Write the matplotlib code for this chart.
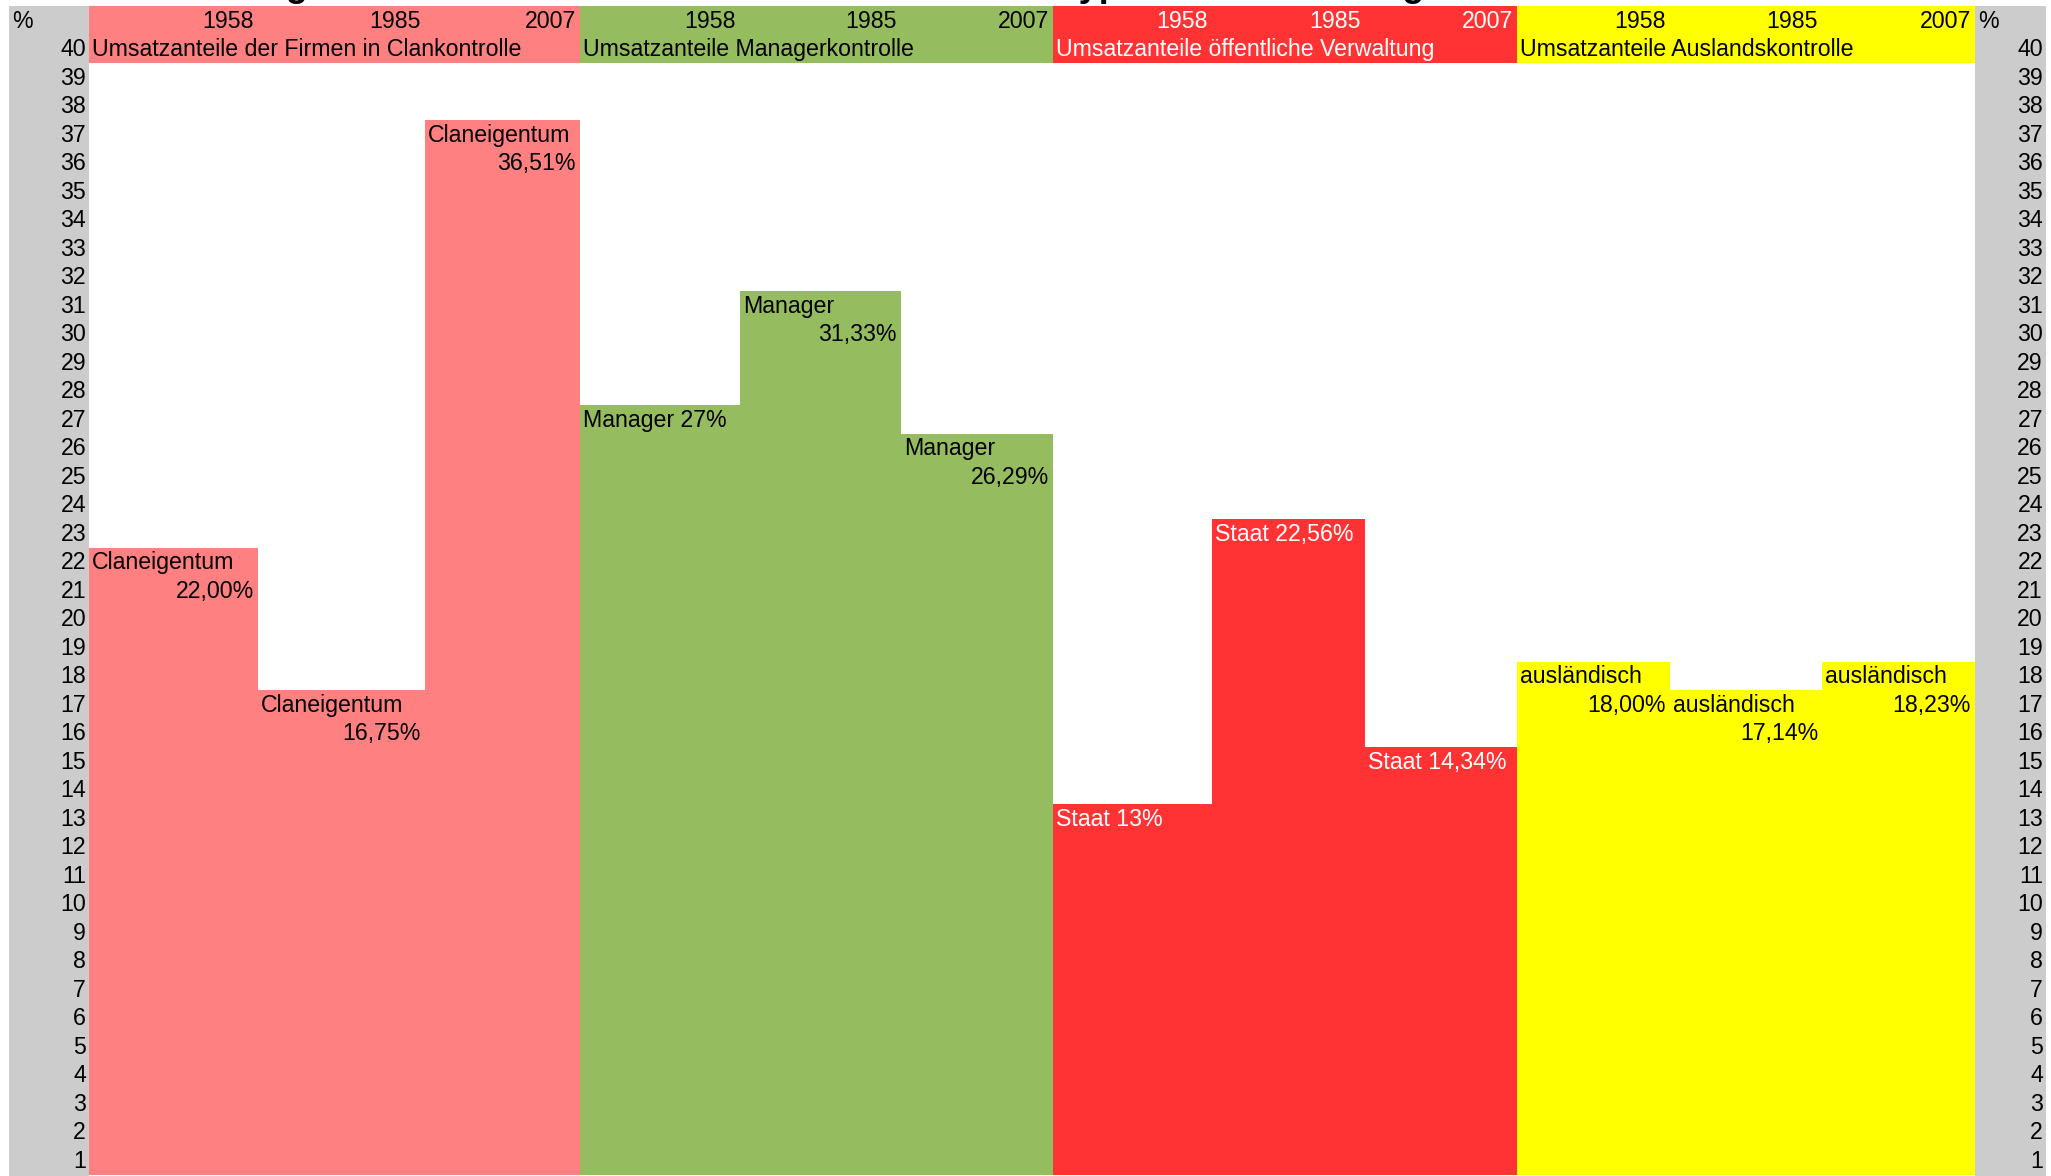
import matplotlib
matplotlib.use("Agg")
import matplotlib.pyplot as plt
from matplotlib.patches import Rectangle

plt.rcParams["font.family"] = ["Liberation Sans", "DejaVu Sans"]

# data
groups = [
    "Umsatzanteile der Firmen in Clankontrolle",
    "Umsatzanteile Managerkontrolle",
    "Umsatzanteile öffentliche Verwaltung",
    "Umsatzanteile Auslandskontrolle",
]
years = ["1958", "1985", "2007"]
owners = ["Claneigentum", "Manager", "Staat", "ausländisch"]
shares = [
    [22.00, 16.75, 36.51],
    [27, 31.33, 26.29],
    [13, 22.56, 14.34],
    [18.00, 17.14, 18.23],
]
share_text = [
    ["22,00%", "16,75%", "36,51%"],
    ["27%", "31,33%", "26,29%"],
    ["13%", "22,56%", "14,34%"],
    ["18,00%", "17,14%", "18,23%"],
]
# bar height as filled spreadsheet rows
bar_rows = [
    [22, 17, 37],
    [27, 31, 26],
    [13, 23, 15],
    [18, 17, 18],
]
two_line = [
    [True, True, True],
    [False, True, True],
    [False, False, False],
    [True, True, True],
]
row_labels = list(range(1, 41))

colors = ["#FF8080", "#95BD5F", "#FF3333", "#FFFF00"]
text_colors = ["black", "black", "white", "black"]
GRAY = "#CCCCCC"

# sheet layout (pixels / rows)
W, H = 2051, 1176
ROW = 28.5
BOTTOM = 1174.5
col_widths = [169, 167, 155, 160, 161, 152, 159, 153, 152, 153, 152, 153]
left_gray = (9, 80)
right_gray = (1975, 71)
x0 = 89
FS = 16.7
PAD = 4
BASE = 0.23


def main():
    fig = plt.figure(figsize=(W / 100, H / 100), dpi=100)
    ax = fig.add_axes([0, 0, 1, 1])
    ax.set_xlim(0, W)
    ax.set_ylim((BOTTOM - H) / ROW, BOTTOM / ROW)
    ax.axis("off")

    # gray row header columns
    for gx, gw in (left_gray, right_gray):
        ax.add_patch(Rectangle((gx, -0.2), gw, 41.2, color=GRAY, lw=0))

    lefts = []
    x = x0
    for w in col_widths:
        lefts.append(x)
        x += w

    for g in range(4):
        idx = [g * 3 + k for k in range(3)]
        gl = lefts[idx[0]]
        gw = sum(col_widths[i] for i in idx)
        col, tc = colors[g], text_colors[g]

        # header band (years + group title)
        ax.add_patch(Rectangle((gl, 39), gw, 2, color=col, lw=0))
        ax.text(gl + 3, 39 + BASE, groups[g], fontsize=FS, color=tc,
                ha="left", va="baseline")

        ax.bar([lefts[i] for i in idx], bar_rows[g],
               width=[col_widths[i] for i in idx], align="edge",
               color=col, linewidth=0)

        for k, i in enumerate(idx):
            right = lefts[i] + col_widths[i]
            ax.text(right - PAD, 40 + BASE, years[k], fontsize=FS, color=tc,
                    ha="right", va="baseline")
            top = bar_rows[g][k]
            if two_line[g][k]:
                ax.text(lefts[i] + 3, top - 1 + BASE, owners[g], fontsize=FS,
                        color=tc, ha="left", va="baseline")
                ax.text(right - PAD, top - 2 + BASE, share_text[g][k],
                        fontsize=FS, color=tc, ha="right", va="baseline")
            else:
                ax.text(lefts[i] + 3, top - 1 + BASE,
                        owners[g] + " " + share_text[g][k], fontsize=FS,
                        color=tc, ha="left", va="baseline")

    # row numbers
    for r in row_labels:
        ax.text(left_gray[0] + left_gray[1] - 3, r - 1 + BASE, str(r),
                fontsize=FS, ha="right", va="baseline")
        ax.text(right_gray[0] + right_gray[1] - 3, r - 1 + BASE, str(r),
                fontsize=FS, ha="right", va="baseline")
    ax.text(left_gray[0] + 3, 40 + BASE, "%", fontsize=FS, ha="left", va="baseline")
    ax.text(right_gray[0] + 3, 40 + BASE, "%", fontsize=FS, ha="left", va="baseline")

    # title, cut off by the top edge of the sheet image (as in the source)
    ax.text(95, (BOTTOM + 3.6) / ROW,
            "Entwicklung der Umsatzanteile der Firmen nach Kontrolltypen und Verteilung",
            fontsize=26, fontweight="bold", ha="left", va="baseline")

    fig.savefig("out.png", dpi=100)


if __name__ == "__main__":
    main()
